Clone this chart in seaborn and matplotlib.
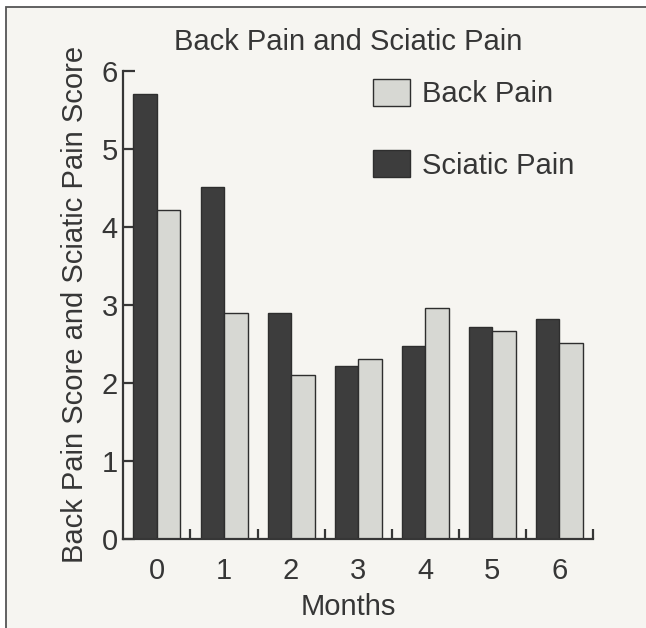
import matplotlib
matplotlib.use('Agg')
import matplotlib.pyplot as plt
import seaborn as sns
import pandas as pd
from matplotlib.ticker import FixedLocator

# --- data ---
months = ['0', '1', '2', '3', '4', '5', '6']
sciatic_pain = [5.71, 4.52, 2.90, 2.22, 2.47, 2.72, 2.82]
back_pain = [4.22, 2.89, 2.10, 2.31, 2.96, 2.67, 2.51]

df = pd.DataFrame({
    'Months': months * 2,
    'Score': sciatic_pain + back_pain,
    'Type': ['Sciatic Pain'] * len(months) + ['Back Pain'] * len(months),
})

# --- style ---
bg = '#f6f5f1'
ink = '#363636'
dark = '#3d3d3d'
light = '#d7d8d3'

sns.set_theme(style='white')
plt.rcParams['font.family'] = ['Liberation Sans', 'DejaVu Sans']
plt.rcParams['font.size'] = 21
plt.rcParams['text.color'] = ink
plt.rcParams['axes.labelcolor'] = ink
plt.rcParams['xtick.color'] = ink
plt.rcParams['ytick.color'] = ink

fig = plt.figure(figsize=(6.46, 6.28), dpi=100, facecolor='white')
ax = fig.add_axes([0.191, 0.1424, 0.727, 0.7441])
ax.set_facecolor('none')

# scanned-page panel with frame lines on top and left
panel = plt.Rectangle((6 / 646, -0.05), 1.1, 1 - 6.7 / 628 + 0.05,
                      transform=fig.transFigure, facecolor=bg,
                      edgecolor='#555555', linewidth=1.3, zorder=-10)
fig.patches.append(panel)

sns.barplot(data=df, x='Months', y='Score', hue='Type',
            palette={'Sciatic Pain': dark, 'Back Pain': light},
            width=0.7, gap=0, edgecolor='#2e2e2e', linewidth=1.0,
            saturation=1, errorbar=None, ax=ax)

ax.set_ylim(0, 6)
ax.set_xlim(-0.5, 6.5)
ax.set_yticks(range(7))

sns.despine(ax=ax)
for s in ['left', 'bottom']:
    ax.spines[s].set_linewidth(1.6)
    ax.spines[s].set_color(ink)

ax.tick_params(axis='y', direction='in', length=8.5, width=1.6, pad=4,
               labelsize=21, left=True)
ax.tick_params(axis='x', which='major', length=0, pad=13, labelsize=21)
ax.xaxis.set_minor_locator(FixedLocator([0.5 + i for i in range(7)]))
ax.tick_params(axis='x', which='minor', direction='in', length=7.5,
               width=1.6, bottom=True)

ax.set_xlabel('Months', fontsize=21, x=0.478, labelpad=6)
ax.set_ylabel('Back Pain Score and Sciatic Pain Score', fontsize=21, labelpad=9)
ax.set_title('Back Pain and Sciatic Pain', fontsize=21, x=0.478, pad=15, color=ink)

# legend: Back Pain first, then Sciatic Pain
handles, labels = ax.get_legend_handles_labels()
order = [labels.index('Back Pain'), labels.index('Sciatic Pain')]
leg = ax.legend([handles[i] for i in order], [labels[i] for i in order],
                loc='upper left', bbox_to_anchor=(0.532, 0.984),
                frameon=False, fontsize=21, handlelength=1.27,
                handleheight=1.05, handletextpad=0.4, labelspacing=1.44,
                borderpad=0, borderaxespad=0)

fig.savefig('out.png', dpi=100, facecolor='white')
